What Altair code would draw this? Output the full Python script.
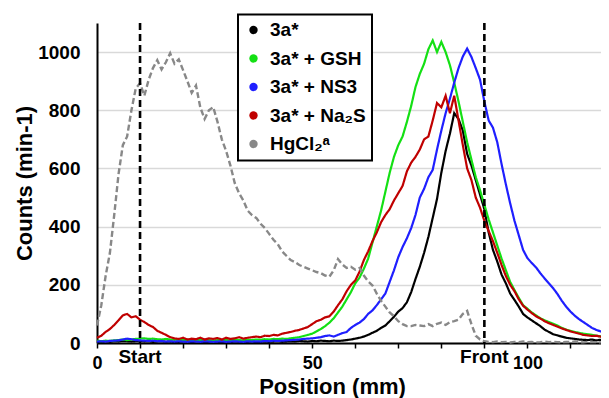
import altair as alt
import pandas as pd

FONT = "Liberation Sans"

positions = list(range(0, 119))

series_names = ["3a*", "3a* + GSH", "3a* + NS3", "3a* + Na₂S", "HgCl₂ᵃ"]
series_colors = ["#000000", "#14e014", "#1f1fff", "#c00000", "#888888"]

black = [4, 3, 5, 4, 6, 5, 7, 6, 5, 6,
         7, 5, 6, 4, 5, 6, 4, 5, 3, 4,
         5, 4, 3, 5, 4, 3, 4, 5, 3, 4,
         4, 3, 5, 4, 3, 4, 5, 3, 4, 5,
         4, 5, 6, 4, 5, 6, 5, 7, 6, 5,
         7, 6, 8, 7, 6, 8, 7, 8, 10, 12,
         15, 18, 22, 28, 35, 42, 52, 60, 75, 90,
         108, 120, 140, 175, 220, 262, 310, 365, 430, 495,
         585, 660, 720, 790, 770, 730, 650, 610, 560, 510,
         460, 380, 320, 280, 235, 205, 170, 148, 125, 100,
         88, 78, 68, 58, 46, 38, 30, 26, 22, 18,
         16, 14, 12, 11, 10, 12, 9, 11, 10]

green = [8, 6, 8, 7, 9, 10, 12, 10, 12, 14,
         15, 16, 14, 15, 13, 12, 14, 12, 11, 12,
         10, 11, 9, 10, 11, 9, 10, 8, 10, 9,
         10, 9, 11, 10, 9, 11, 10, 12, 11, 13,
         12, 14, 13, 15, 14, 16, 18, 20, 24, 28,
         32, 40, 48, 58, 70, 85, 105, 125, 150, 175,
         205, 225, 255, 290, 345, 400, 455, 520, 585, 640,
         680, 710, 760, 815, 880, 925, 960, 1010, 1040, 1000,
         1035, 1000, 955, 895, 830, 760, 690, 630, 570, 525,
         475, 425, 380, 335, 290, 250, 210, 182, 155, 130,
         118, 105, 95, 85, 78, 72, 66, 60, 52, 46,
         42, 38, 35, 32, 30, 28, 25, 23, 21]

blue = [5, 6, 5, 7, 8, 9, 12, 15, 13, 10,
        9, 8, 7, 8, 6, 7, 5, 6, 5, 6,
        5, 4, 6, 5, 4, 6, 5, 4, 5, 6,
        4, 5, 6, 5, 4, 6, 5, 6, 5, 7,
        6, 8, 7, 8, 9, 10, 11, 12, 14, 15,
        16, 18, 20, 24, 26, 22, 28, 34, 38, 52,
        62, 70, 82, 100, 112, 130, 150, 170, 210, 250,
        295, 330, 360, 395, 440, 500, 530, 570, 595, 665,
        730, 790, 840, 895, 945, 985, 1012, 983, 945, 905,
        830, 765, 740, 690, 615, 545, 480, 420, 370, 320,
        292, 275, 260, 240, 222, 205, 188, 168, 145, 125,
        108, 94, 82, 72, 62, 52, 45, 40, 34]

red = [18, 25, 38, 48, 62, 78, 95, 100, 88, 92,
       80, 72, 62, 55, 42, 35, 28, 20, 16, 14,
       18, 12, 15, 13, 18, 12, 16, 14, 17, 12,
       18, 14, 16, 20, 15, 18, 20, 22, 20, 25,
       24, 28, 26, 32, 35, 38, 42, 45, 50, 55,
       65, 75, 80, 88, 92, 108, 130, 150, 178, 200,
       215, 245, 285, 315, 350, 380, 415, 440, 460, 490,
       515, 540, 590, 620, 640, 665, 700, 710, 765, 825,
       810, 850, 790, 850, 765, 680, 600, 560, 500, 465,
       420, 385, 350, 310, 268, 230, 200, 178, 150, 128,
       115, 103, 92, 84, 75, 68, 62, 56, 50, 45,
       40, 36, 32, 28, 26, 24, 25, 22, 21]

gray = [60, 130, 230, 310, 440, 580, 680, 710, 800, 875,
        893, 850, 905, 945, 972, 940, 965, 996, 960, 975,
        938, 900, 860, 885, 810, 770, 800, 811, 760, 700,
        660, 610, 550, 515, 490, 455, 440, 430, 410, 395,
        375, 355, 340, 315, 300, 285, 278, 268, 262, 256,
        250, 244, 240, 232, 228, 250, 288, 270, 258, 262,
        252, 258, 232, 212, 198, 170, 145, 125, 105, 92,
        75, 65, 58, 58, 62, 60, 58, 65, 58, 66,
        70, 62, 72, 75, 80, 100, 110, 65, 25, 12,
        6, 4, 3, 5, 3, 4, 2, 4, 3, 5,
        3, 4, 2, 3, 5, 3, 4, 3, 2, 4,
        3, 5, 3, 2, 4, 3, 3, 2, 4]

series_values = [black, green, blue, red, gray]
series_dash = [[1, 0], [1, 0], [1, 0], [1, 0], [6, 3]]
series_width = [2.2, 2.2, 2.2, 2.2, 2.4]

marker_x = [10, 90]
marker_labels = ["Start", "Front"]

x_ticks = list(range(0, 120, 10))
y_ticks = [0, 200, 400, 600, 800, 1000]

x_scale = alt.Scale(domain=[0, 117.1], nice=False, zero=False)
y_scale = alt.Scale(domain=[0, 1100], nice=False)

x_axis = alt.Axis(
    values=x_ticks,
    labelExpr="datum.value % 50 === 0 ? datum.label : ''",
    grid=False, domainColor="black", domainWidth=2,
    tickColor="black", tickWidth=1.5, tickSize=5,
    labelFont=FONT, labelFontSize=18, labelFontWeight="bold", labelColor="black",
    labelBaseline="alphabetic", labelPadding=20, labelFlush=False, labelOverlap=False,
    title="Position (mm)", titleFont=FONT, titleFontSize=22, titleFontWeight="bold",
    titleColor="black", titleX=235, titleY=50, titleBaseline="alphabetic", titleAlign="center",
)
y_axis = alt.Axis(
    values=y_ticks, format="d", grid=True, gridColor="#d9d9d9", gridWidth=1.5,
    ticks=False, tickSize=0, domainColor="black", domainWidth=2,
    labelFont=FONT, labelFontSize=19, labelFontWeight="bold", labelColor="black",
    labelPadding=17, labelBaseline="middle",
    title="Counts (min-1)", titleFont=FONT, titleFontSize=22, titleFontWeight="bold",
    titleColor="black", titleX=-66, titleY=160, titleBaseline="alphabetic",
    titleAlign="center", titleAngle=270,
)

layers = []
for i, (name, vals) in enumerate(zip(series_names, series_values)):
    d = pd.DataFrame({"x": positions, "y": vals})
    layer = alt.Chart(d).mark_line(
        color=series_colors[i], strokeWidth=series_width[i], strokeDash=series_dash[i]
    ).encode(
        x=alt.X("x:Q", scale=x_scale, axis=x_axis),
        y=alt.Y("y:Q", scale=y_scale, axis=y_axis),
    )
    layers.append(layer)

rules = alt.Chart(pd.DataFrame({"x": marker_x})).mark_rule(
    color="black", strokeWidth=2.6, strokeDash=[7, 4]
).encode(x=alt.X("x:Q", scale=x_scale, axis=x_axis))

texts = alt.Chart(pd.DataFrame({"x": marker_x, "label": marker_labels})).mark_text(
    font=FONT, fontSize=19, fontWeight="bold", color="black",
    baseline="alphabetic", align="center"
).encode(x=alt.X("x:Q", scale=x_scale, axis=x_axis), y=alt.value(340), text="label:N")

legend_df = pd.DataFrame({"series": series_names, "x": [None] * 5, "y": [None] * 5})
legend_layer = alt.Chart(legend_df).mark_point(
    filled=True, shape="circle", size=70, opacity=1
).encode(
    x=alt.X("x:Q", scale=x_scale, axis=x_axis),
    y=alt.Y("y:Q", scale=y_scale, axis=y_axis),
    fill=alt.Fill(
        "series:N",
        scale=alt.Scale(domain=series_names, range=series_colors),
        legend=alt.Legend(
            title=None, orient="none", legendX=141, legendY=-8.5,
            symbolType="circle", symbolSize=70, symbolStrokeWidth=0, symbolOpacity=1,
            labelFont=FONT, labelFontSize=19, labelFontWeight="bold", labelColor="black",
            rowPadding=8.5, padding=6, labelOffset=7, labelLimit=300,
            strokeColor="black", fillColor="white",
        ),
    ),
)

chart = alt.layer(*layers, rules, texts, legend_layer).properties(
    width=504, height=320,
    autosize=alt.AutoSizeParams(type="none"),
    padding={"left": 89, "top": 15, "right": 0, "bottom": 55},
    background="white",
).configure_view(stroke=None).configure_legend(strokeWidth=2)

chart.save("out.html", embed_options={"renderer": "svg", "actions": False})
